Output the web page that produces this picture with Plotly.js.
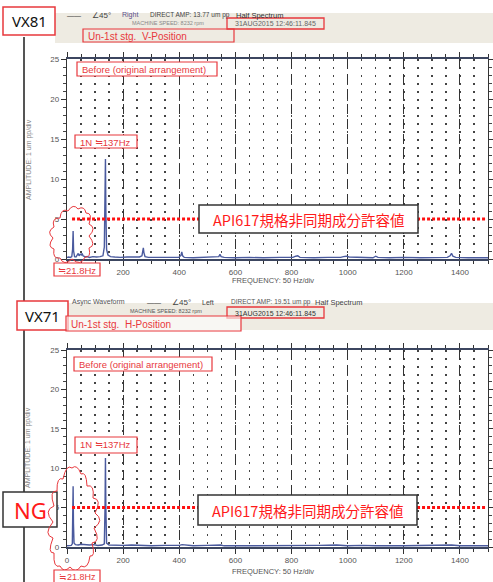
<!DOCTYPE html>
<html><head><meta charset="utf-8">
<script src="https://cdn.plot.ly/plotly-3.0.1.min.js"></script>
<style>html,body{margin:0;padding:0;background:#fff}#c{width:493px;height:582px}</style>
</head><body><div id="c"></div>
<script>
// ---- data ----
const freqTop = [0,6,12,17,20,21.8,23.5,27,32,37,40,43,47,51,54,57,61,66,72,80,92,105,118,128,133,135.5,137,138.5,141,146,155,170,190,215,240,258,267,270,272,274,278,290,330,370,398,406,409,412,418,450,500,530,541,545,549,560,600,650,700,760,805,815,822,830,880,930,975,985,995,1005,1040,1090,1100,1108,1150,1200,1260,1320,1355,1365,1370,1375,1385,1430,1470,1500];
const ampTop  = [0.2,0.25,0.2,0.3,1.2,3.5,1.0,0.3,0.25,0.5,0.7,0.4,0.6,0.5,0.7,0.4,0.3,0.25,0.3,0.2,0.3,0.25,0.3,0.4,1.5,7.5,12.5,6.0,1.2,0.5,0.3,0.25,0.2,0.25,0.2,0.25,0.4,0.9,1.4,0.8,0.3,0.2,0.2,0.15,0.2,0.45,0.9,0.4,0.2,0.15,0.2,0.2,0.3,0.6,0.3,0.2,0.15,0.2,0.15,0.2,0.2,0.35,0.4,0.2,0.15,0.2,0.2,0.3,0.35,0.25,0.2,0.15,0.35,0.2,0.15,0.2,0.15,0.2,0.2,0.4,0.7,0.35,0.2,0.15,0.2,0.15];
const freqBot = [0,8,15,19,20.5,21.8,23,25,30,40,50,60,70,80,95,110,125,133,135.5,137,138.5,141,150,170,200,230,260,300,350,400,410,450,500,548,560,600,700,800,900,960,1000,1050,1100,1200,1300,1370,1400,1500];
const ampBot  = [0.15,0.2,0.2,0.4,3.0,7.7,3.0,0.5,0.3,0.25,0.35,0.3,0.3,0.25,0.3,0.2,0.25,0.4,5.0,11.3,5.0,0.5,0.25,0.2,0.2,0.25,0.2,0.15,0.2,0.2,0.3,0.15,0.2,0.25,0.15,0.15,0.2,0.15,0.2,0.25,0.15,0.2,0.15,0.15,0.2,0.25,0.15,0.15];
const xTickVals = [0,200,400,600,800,1000,1200,1400];
const xTickTextTop = ['','200','400','600','800','1000','1200','1400'];
const xTickTextBot = ['0','200','400','600','800','1000','1200','1400'];
const yTickVals = [0,5,10,15,20,25];
const limitValue = 5;
const limitLabel = 'API617規格非同期成分許容値';
const sensorTop = 'VX81', sensorBot = 'VX71';
const posTop = 'Un-1st stg.  V-Position', posBot = 'Un-1st stg.  H-Position';
const stateLabel = 'Before (original arrangement)';
const peak1N = '1N ≒137Hz', peakSub = '≒21.8Hz';

// ---- layout helpers (pixel -> paper) ----
const W = 493, H = 582;
const X = px => px / W, Y = py => 1 - py / H;
const RED = '#e8383d';
const shapes = [], ann = [];
function rect(x0,y0,x1,y1,line,fill,lw){shapes.push({type:'rect',xref:'paper',yref:'paper',x0:X(x0),x1:X(x1),y0:Y(y1),y1:Y(y0),line:{color:line||'rgba(0,0,0,0)',width:lw===undefined?1.2:lw},fillcolor:fill||'rgba(0,0,0,0)',layer:'above'});}
function txt(x,y,t,o){o=o||{};ann.push({xref:'paper',yref:'paper',x:X(x),y:Y(y),text:t,showarrow:false,xanchor:o.xa||'left',yanchor:'middle',textangle:o.ang||0,font:{family:o.fam||'Liberation Sans, Arial, sans-serif',size:o.s||8,color:o.c||'#444'}});}
function cloud(pts,bulge){
  let cx=0,cy=0;pts.forEach(p=>{cx+=p[0];cy+=p[1];});cx/=pts.length;cy/=pts.length;
  let d='M'+X(pts[0][0])+','+Y(pts[0][1]);
  for(let i=0;i<pts.length;i++){
    const a=pts[i],b=pts[(i+1)%pts.length];
    const mx=(a[0]+b[0])/2,my=(a[1]+b[1])/2;
    const len=Math.hypot(b[0]-a[0],b[1]-a[1]);
    let nx=mx-cx,ny=my-cy;const nl=Math.hypot(nx,ny)||1;nx/=nl;ny/=nl;
    const qx=mx+nx*len*bulge,qy=my+ny*len*bulge;
    d+=' Q'+X(qx)+','+Y(qy)+' '+X(b[0])+','+Y(b[1]);
  }
  shapes.push({type:'path',xref:'paper',yref:'paper',path:d,line:{color:RED,width:1},layer:'above'});
}

// backgrounds / page furniture
shapes.push({type:'rect',xref:'paper',yref:'paper',x0:X(55),x1:1,y0:Y(43),y1:Y(13),fillcolor:'#eeebe2',line:{width:0},layer:'below'});
shapes.push({type:'rect',xref:'paper',yref:'paper',x0:X(68),x1:1,y0:Y(330),y1:Y(303),fillcolor:'#eeebe2',line:{width:0},layer:'below'});
shapes.push({type:'line',xref:'paper',yref:'paper',x0:X(24),x1:X(24),y0:Y(37),y1:0,line:{color:'#555',width:2},layer:'above'});

// red dotted limit lines (data coords)
[['x','y'],['x2','y2']].forEach(r=>{
  shapes.push({type:'line',xref:r[0],yref:r[1],x0:18,x1:1490,y0:limitValue,y1:limitValue,line:{color:'#ff1010',width:3,dash:'3px,2px'},layer:'above'});
});

// ----- top panel decorations -----
rect(3,7,55,35,RED,'#fff',1.5);
txt(29,21,sensorTop,{xa:'center',s:15,c:'#111',fam:'Noto Sans, sans-serif'});
txt(65,15,'——',{s:7,c:'#333'});
txt(90,15,'∠45°',{s:8,c:'#444'});
txt(120,15,'Right',{s:7,c:'#5a4f8a'});
txt(148,15,'DIRECT AMP: 13.77 um pp',{s:6.5,c:'#444'});
txt(234,15,'Half Spectrum',{s:7.5,c:'#333'});
txt(130,23,'MACHINE SPEED: 8232 rpm',{s:5.5,c:'#888'});
rect(227,18,324,29,RED,null,1.3);
txt(275.5,24,'31AUG2015 12:46:11.845',{xa:'center',s:7,c:'#666'});
rect(83,29,234,42,RED,null,1.2);
txt(86,36,posTop,{s:10,c:RED});
rect(77,62,217,76,RED,'#fff',1.2);
txt(80,69,stateLabel,{s:9.5,c:RED});
rect(75,135,137,148,RED,'#fff',1.2);
txt(78,142,peak1N,{s:9.5,c:RED});
rect(199,205,418,233,'#333','#fff',1.5);
txt(308,219.5,limitLabel,{xa:'center',s:14.5,c:'#ff1a1a',fam:'Noto Sans CJK JP, sans-serif'});
cloud([[60,258],[54,249],[53,238],[54,227],[60,218],[68,211],[78,209],[86,213],[89,224],[89,236],[89,248],[85,257],[72,259]],0.7);
rect(54,263,100,276,RED,'#fff',1.2);
txt(77,270,peakSub,{xa:'center',s:9.5,c:RED});
txt(29,160,'AMPLITUDE: 1 um pp/div',{xa:'center',ang:-90,s:7,c:'#888'});
txt(230,280,'FREQUENCY: 50 Hz/div',{s:7.5,c:'#555'});

// ----- bottom panel decorations -----
rect(17,301,68,330,RED,'#fff',1.5);
txt(42.5,315.5,sensorBot,{xa:'center',s:15,c:'#111',fam:'Noto Sans, sans-serif'});
txt(70,302,'Async Waveform',{s:7,c:'#555'});
txt(145,302,'——',{s:7,c:'#333'});
txt(170,302,'∠45°',{s:8,c:'#444'});
txt(200,302,'Left',{s:7,c:'#444'});
txt(229,302,'DIRECT AMP: 19.51 um pp',{s:6.5,c:'#555'});
txt(313,302,'Half Spectrum',{s:7.5,c:'#444'});
txt(128,311,'MACHINE SPEED: 8232 rpm',{s:5.5,c:'#555'});
rect(227,307,324,318,RED,null,1.3);
txt(275.5,313,'31AUG2015 12:46:11.845',{xa:'center',s:7,c:'#333'});
rect(66,316,241,331,RED,'rgba(255,255,255,0.6)',1.2);
txt(69,324,posBot,{s:10,c:RED});
rect(74,357,212,371,RED,'#fff',1.2);
txt(77,364,stateLabel,{s:9.5,c:RED});
rect(75,437,137,453,RED,'#fff',1.2);
txt(78,445,peak1N,{s:9.5,c:RED});
rect(198,495,417,525,'#333','#fff',1.5);
txt(307,510.5,limitLabel,{xa:'center',s:14.5,c:'#ff1a1a',fam:'Noto Sans CJK JP, sans-serif'});
rect(3,492,57,527,'#333','#fff',1.5);
txt(30,510,'NG',{xa:'center',s:22,c:'#ff1a1a',fam:'Noto Sans, sans-serif'});
cloud([[60,566],[54,553],[53,538],[53,522],[54,506],[57,491],[63,479],[72,468],[81,474],[87,486],[93,498],[95,513],[94,528],[92,543],[90,556],[81,566],[70,567]],0.7);
rect(54,570,100,583,RED,'#fff',1.2);
txt(77,576.5,peakSub,{xa:'center',s:9,c:RED});
txt(28,448,'AMPLITUDE: 1 um pp/div',{xa:'center',ang:-90,s:7,c:'#888'});
txt(230,571,'FREQUENCY: 50 Hz/div',{s:7.5,c:'#555'});

// ---- axes ----
const xDom = [X(67), X(488)];
function xAxis(anchor,labels){return {domain:xDom,anchor:anchor,range:[0,1500],tickmode:'array',tickvals:xTickVals,ticktext:labels,
  ticks:'outside',ticklen:5,tickcolor:'#333',showline:true,linecolor:'#3c4660',linewidth:1.6,mirror:'ticks',
  showgrid:true,gridcolor:'#333',gridwidth:1,griddash:'10px,5px',zeroline:false,
  tickfont:{family:'Liberation Sans, Arial, sans-serif',size:8,color:'#555'},
  minor:{dtick:50,tick0:0,ticks:'outside',ticklen:3,tickcolor:'#333',showgrid:true,gridcolor:'#444',gridwidth:1.5,griddash:'1.5px,6.5px'},fixedrange:true};}
function yAxis(dom,anchor){return {domain:dom,anchor:anchor,range:[0,25],tickmode:'array',tickvals:yTickVals,
  ticks:'outside',ticklen:5,tickcolor:'#333',showline:true,linecolor:'#333',linewidth:1.2,mirror:'ticks',
  showgrid:false,zeroline:false,tickfont:{family:'Liberation Sans, Arial, sans-serif',size:8,color:'#555'},
  minor:{dtick:1,tick0:0,ticks:'outside',ticklen:3,tickcolor:'#444'},fixedrange:true};}

const traces = [
  {x:freqTop,y:ampTop,xaxis:'x',yaxis:'y',type:'scatter',mode:'lines',line:{color:'#4a5a9e',width:1.4},hoverinfo:'skip'},
  {x:freqBot,y:ampBot,xaxis:'x2',yaxis:'y2',type:'scatter',mode:'lines',line:{color:'#4a5a9e',width:1.4},hoverinfo:'skip'}
];
const layout = {width:W,height:H,margin:{l:0,r:0,t:0,b:0},paper_bgcolor:'#fff',plot_bgcolor:'rgba(0,0,0,0)',showlegend:false,
  xaxis:xAxis('y',xTickTextTop),yaxis:yAxis([Y(259),Y(59)],'x'),
  xaxis2:xAxis('y2',xTickTextBot),yaxis2:yAxis([Y(547),Y(350)],'x2'),
  shapes:shapes,annotations:ann};
Plotly.newPlot('c',traces,layout,{staticPlot:true,displayModeBar:false});
</script></body></html>
